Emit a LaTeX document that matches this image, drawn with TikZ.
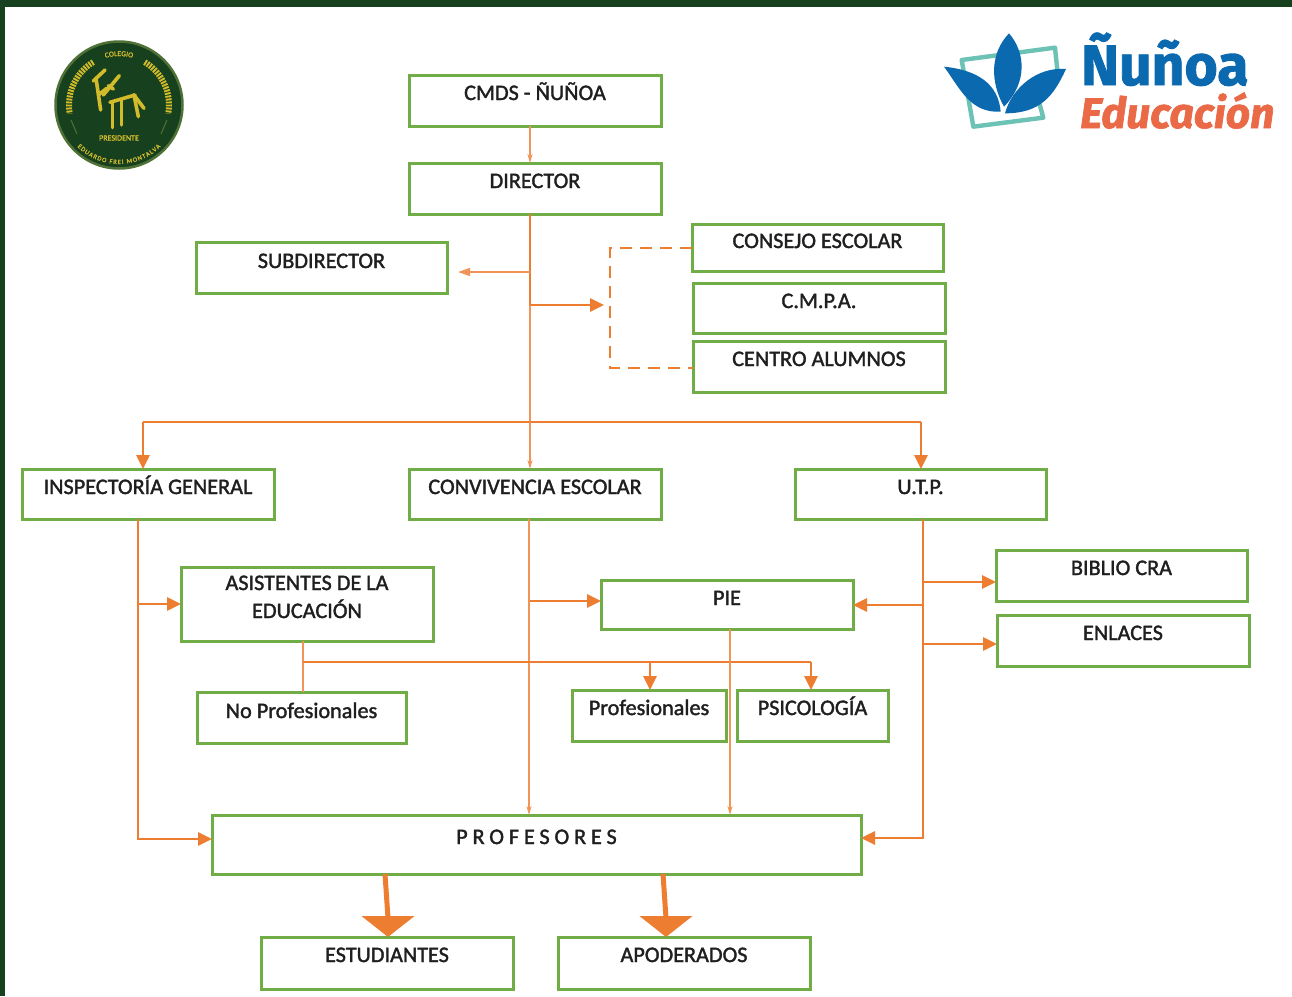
\documentclass[tikz,border=0pt]{standalone}
\usepackage{fontspec}
\usetikzlibrary{arrows.meta,decorations.text}
\setmainfont[FakeBold=1.6]{Carlito}
\newfontfamily\logofont[BoldFeatures={FakeBold=1.6},BoldItalicFeatures={FakeBold=1.6}]{Fira Sans}
\newfontfamily\crestfont[FakeBold=1.5]{Carlito}
\definecolor{frame}{HTML}{17401F}
\definecolor{boxgreen}{HTML}{70AD47}
\definecolor{conn}{HTML}{ED7D31}
\definecolor{connlight}{HTML}{F19458}
\definecolor{crestY}{HTML}{D2BC2C}
\definecolor{crestRim}{HTML}{4F7136}
\definecolor{logoBlue}{HTML}{0B69B0}
\definecolor{logoTeal}{HTML}{6CC3B5}
\definecolor{logoOrange}{HTML}{EA6A47}
\definecolor{ink}{HTML}{1F1F1F}
\tikzset{
  orgbox/.style={draw=boxgreen,line width=3pt,fill=white,inner sep=0pt,outer sep=0pt},
  orglabel/.style={inner sep=0pt,outer sep=0pt,text=ink,font=\fontsize{22.2}{26}\selectfont,anchor=base},
  thinline/.style={draw=connlight,line width=1.6pt},
  midline/.style={draw=conn,line width=2.7pt},
  thinarrow/.style={thinline,-{Stealth[length=9pt,width=5pt]}},
  midarrow/.style={midline,-{Triangle[length=14pt,width=13pt]}},
  bigarrow/.style={draw=conn,line width=5pt,-{Triangle[length=21pt,width=52pt]}},
  dashline/.style={draw=conn,line width=2.6pt,dash pattern=on 12pt off 8pt},
  sprig/.style={draw=crestY,line width=6pt,dash pattern=on 1.9pt off 1.1pt},
  crestline/.style={draw=crestY,line width=3.6pt,line cap=round,line join=round},
}
\newcommand{\orgnode}[7]{%
  \pgfmathsetmacro{\cxx}{(#2+#4)/2}%
  \pgfmathsetmacro{\cyy}{(#3+#5)/2}%
  \pgfmathsetmacro{\ww}{#4-#2}%
  \pgfmathsetmacro{\hh}{#5-#3}%
  \node[orgbox,minimum width=\ww pt,minimum height=\hh pt] (#1) at (\cxx,\cyy) {};
  \node[orglabel] (#1T) at (\cxx,#6) {#7};
}
\begin{document}
\begin{tikzpicture}[x=1pt,y=-1pt]
\useasboundingbox (0,0) rectangle (1292,996);
\fill[white] (0,0) rectangle (1292,996);
\fill[frame] (0,0) rectangle (1292,7);
\fill[frame] (0,0) rectangle (5,996);

% crest
\fill[frame,draw=crestRim,line width=2.5pt] (119,105) circle (63.5);
\draw[sprig] plot[domain=121:190,samples=30] ({119+50*cos(\x)},{105-50*sin(\x)});
\draw[sprig] plot[domain=59:-10,samples=30] ({119+50*cos(\x)},{105-50*sin(\x)});
\draw[crestRim,line width=1pt] (71,120) -- (77,134);
\draw[crestRim,line width=1pt] (167,120) -- (161,134);
\path[decorate,decoration={text along path,text align=center,text={|\crestfont\fontsize{7.5}{8}\selectfont\color{crestY}|COLEGIO}}]
  plot[domain=112:68,samples=20] ({119+49*cos(\x)},{105-49*sin(\x)});
\path[decorate,decoration={text along path,text align={fit to path},text={|\crestfont\fontsize{6.5}{7}\selectfont\color{crestY}|EDUARDO FREI MONTALVA}}]
  plot[domain=225:315,samples=30] ({119+59*cos(\x)},{105-59*sin(\x)});
\node[inner sep=0pt,text=crestY,font=\crestfont\fontsize{8}{9}\selectfont] (crestname) at (119,138) {PRESIDENTE};
\begin{scope}[shift={(60,45)},x=0.3333pt,y=-0.3333pt]
  \draw[crestline] (100,108) -- (135,75);
  \draw[crestline] (108,100) -- (122,195);
  \draw[crestline] (115,150) -- (140,130);
  \draw[crestline] (130,150) -- (178,92);
  \draw[crestline] (145,122) -- (160,132);
  \draw[crestline] (150,172) -- (225,150);
  \draw[crestline] (157,172) -- (157,248);
  \draw[crestline] (185,165) -- (185,240);
  \draw[crestline] (222,150) -- (252,190);
  \draw[crestline] (222,150) -- (235,215);
\end{scope}

% right logo
\begin{scope}[shift={(940,25)},x=0.3333pt,y=-0.3333pt]
  \draw[logoTeal,line width=4.4pt,line join=round,line cap=round] (352,135) -- (345,68) -- (65,105) -- (100,305) -- (310,278) -- (298,235);
  \fill[logoBlue] (12,125) .. controls (110,135) and (175,175) .. (182,260)
     .. controls (90,265) and (60,190) .. (12,125) -- cycle;
  \fill[logoBlue] (378,132) .. controls (290,125) and (215,190) .. (195,265)
     .. controls (300,265) and (340,215) .. (378,132) -- cycle;
  \fill[logoBlue] (207,25) .. controls (255,80) and (265,170) .. (192,245)
     .. controls (150,170) and (150,85) .. (207,25) -- cycle;
\end{scope}
\node[inner sep=0pt,anchor=base west,text=logoBlue,font=\logofont\bfseries\fontsize{57}{60}\selectfont] (logoA) at (1081,85) {Ñuñoa};
\node[inner sep=0pt,anchor=base west,text=logoOrange,font=\logofont\bfseries\itshape\fontsize{42.6}{50}\selectfont] (logoB) at (1080,128) {Educación};

% boxes
\orgnode{cmds}{409}{75}{661}{126}{100}{CMDS - ÑUÑOA}
\orgnode{director}{409}{163}{661}{214}{188}{DIRECTOR}
\orgnode{sub}{196}{242}{447}{293}{268}{SUBDIRECTOR}
\orgnode{consejo}{692}{224}{943}{271}{248}{CONSEJO ESCOLAR}
\orgnode{cmpa}{693}{283}{945}{333}{308}{C.M.P.A.}
\orgnode{centro}{693}{341}{945}{392}{366}{CENTRO ALUMNOS}
\orgnode{insp}{22}{469}{274}{519}{494}{INSPECTORÍA GENERAL}
\orgnode{conv}{409}{469}{661}{519}{494}{CONVIVENCIA ESCOLAR}
\orgnode{utp}{795}{469}{1046}{519}{494}{U.T.P.}
\orgnode{biblio}{996}{550}{1247}{601}{575}{BIBLIO CRA}
\orgnode{enlaces}{997}{615}{1249}{666}{640}{ENLACES}
\orgnode{asis}{181}{567}{433}{641}{590}{ASISTENTES DE LA}
\node[orglabel] (asisB) at (307,618) {EDUCACIÓN};
\orgnode{pie}{601}{580}{853}{629}{605}{PIE}
\orgnode{noprof}{197}{692}{406}{743}{718}{No Profesionales}
\orgnode{prof}{572}{690}{726}{741}{715}{Profesionales}
\orgnode{psico}{737}{690}{888}{741}{715}{PSICOLOGÍA}
\orgnode{profes}{212}{815}{861}{874}{844}{\addfontfeature{LetterSpace=22}PROFESORES}
\orgnode{estud}{261}{937}{513}{989}{962}{ESTUDIANTES}
\orgnode{apod}{558}{937}{810}{989}{962}{APODERADOS}

% free points of the connectors
\coordinate (trunk) at (530,422);
\coordinate (busL) at (143,422);
\coordinate (busR) at (921,422);
\coordinate (subEnd) at (458,272);
\coordinate (subFork) at (530,272);
\coordinate (groupFork) at (530,305);
\coordinate (groupEnd) at (604,305);
\coordinate (dashA) at (610,248);
\coordinate (dashB) at (610,368);
\coordinate (inspX) at (138,519);
\coordinate (utpX) at (923,519);
\coordinate (asisX) at (303,641);
\coordinate (asisBus) at (303,662);
\coordinate (profX) at (650,662);
\coordinate (psicoX) at (811,662);
\coordinate (pieX) at (730,629);
\coordinate (convX) at (529,519);
\coordinate (bigA) at (388,918);
\coordinate (bigB) at (666,918);

% connectors
\draw[thinarrow] (trunk |- cmds.south) -- (trunk |- director.north);
\draw[midline] (trunk |- director.south) -- (groupFork);
\draw[thinline] (groupFork) -- (trunk);
\draw[thinline,-{Triangle[length=12pt,width=8pt]}] (subFork) -- (subEnd);
\draw[midarrow] (groupFork) -- (groupEnd);
\draw[dashline] (consejo.west |- dashA) -- (dashA) -- (dashB) -- (centro.west |- dashB);
\draw[midline] (busL) -- (busR);
\draw[midarrow] (busL) -- (busL |- insp.north);
\draw[midarrow] (busR) -- (busR |- utp.north);
\draw[thinarrow] (trunk) -- (trunk |- conv.north);

\draw[midarrow] (inspX) -- (138,839) -- (profes.west |- 0,839);
\draw[midarrow] (138,604) -- (asis.west |- 0,604);

\draw[thinarrow] (convX) -- (convX |- profes.north);
\draw[midarrow] (530,601) -- (pie.west |- 0,601);

\draw[midarrow] (utpX) -- (923,838) -- (profes.east |- 0,838);
\draw[midarrow] (923,605) -- (pie.east |- 0,605);
\draw[midarrow] (923,582) -- (biblio.west |- 0,582);
\draw[midarrow] (923,644) -- (enlaces.west |- 0,644);

\draw[thinline] (asisX) -- (asisX |- noprof.north);
\draw[midline] (asisBus) -- (psicoX);
\draw[midarrow] (profX) -- (profX |- prof.north);
\draw[midarrow] (psicoX) -- (psicoX |- psico.north);

\draw[thinarrow] (pieX) -- (pieX |- profes.north);

\draw[bigarrow] (385,874) -- (bigA) -- (bigA |- estud.north);
\draw[bigarrow] (663,874) -- (bigB) -- (bigB |- apod.north);
\end{tikzpicture}
\end{document}
